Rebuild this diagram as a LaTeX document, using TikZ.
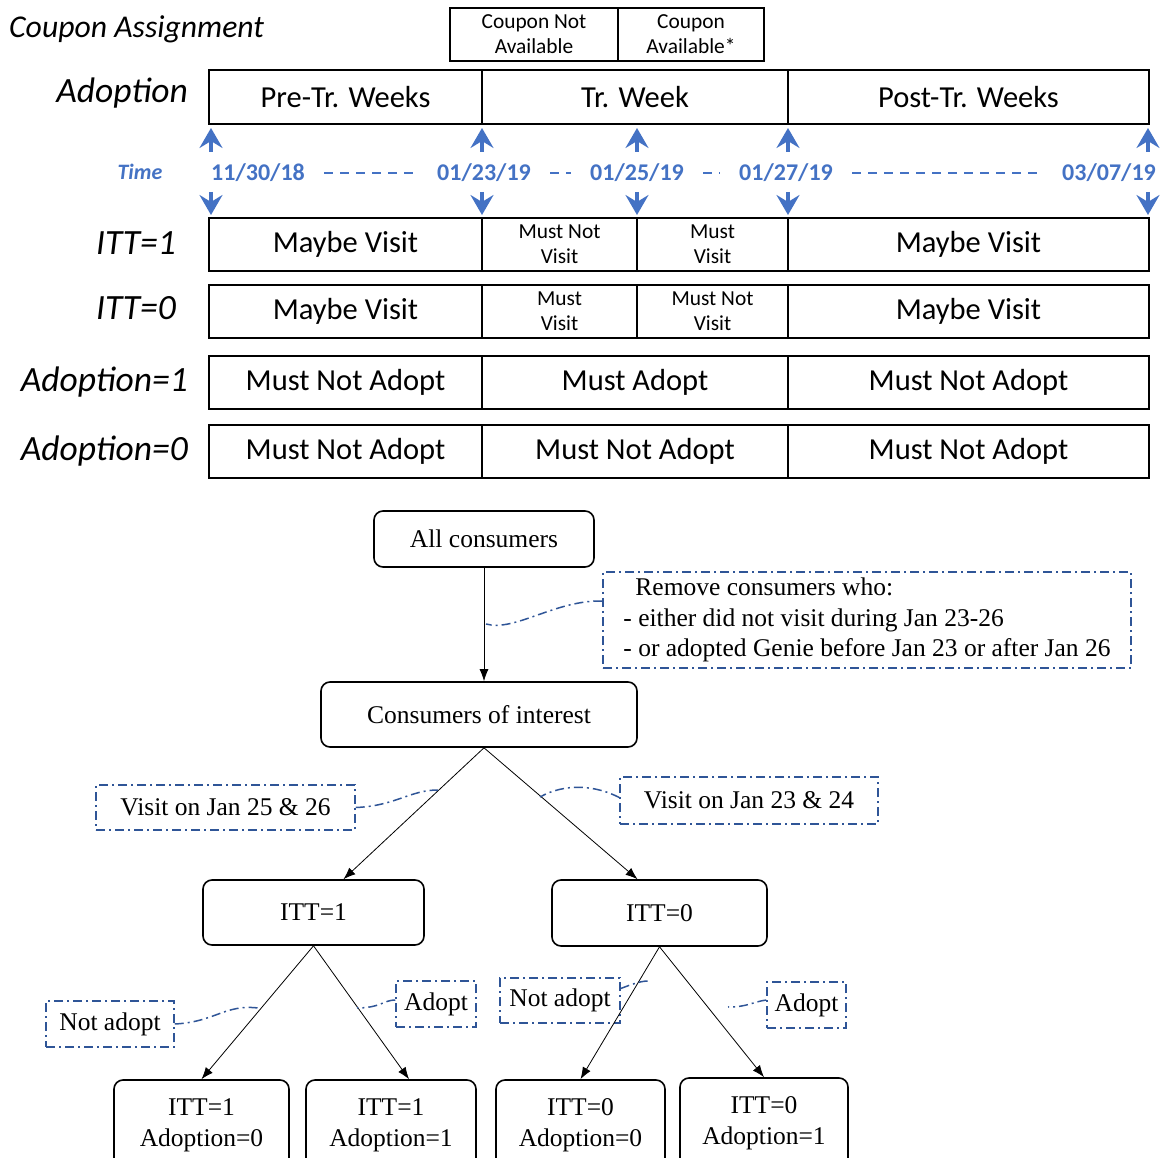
\documentclass[tikz,border=0pt]{standalone}
\usepackage{fontspec}
\setmainfont{Liberation Serif}
\newfontfamily\calibri{Carlito}
\usepackage{tikz}
\usetikzlibrary{arrows.meta,positioning}
\definecolor{timeblue}{RGB}{68,114,196}
\definecolor{noteblue}{RGB}{47,85,151}

\begin{document}
\begin{tikzpicture}[
  x=1pt, y=-1pt,
  cell/.style={draw, line width=2.4pt, inner sep=0pt, minimum height=53pt, align=center, font=\calibri\fontsize{30.5}{34}\selectfont},
  small/.style={font=\calibri\fontsize{21.4}{25}\selectfont},
  rowlab/.style={anchor=east, inner sep=0pt, font=\calibri\itshape\fontsize{35.5}{38}\selectfont},
  date/.style={text=timeblue, inner sep=0pt, font=\calibri\bfseries\fontsize{24}{28}\selectfont},
  tarr/.style={-{Stealth[length=20pt,width=23pt,inset=7pt]}, line width=3.2pt, draw=timeblue},
  tdash/.style={draw=timeblue, line width=2.5pt, dash pattern=on 9pt off 7pt, shorten >=19pt, shorten <=19pt},
  box/.style={draw, rounded corners=9pt, line width=1.6pt, inner sep=0pt, align=center, font=\fontsize{25.5}{31}\selectfont},
  note/.style={draw=noteblue, line width=1.5pt, dash pattern=on 9pt off 4pt on 2pt off 4pt, inner sep=0pt, font=\fontsize{25.5}{30.5}\selectfont},
  link/.style={draw=noteblue, line width=1.5pt, dash pattern=on 9pt off 4pt on 2pt off 4pt},
  arr/.style={-{Latex[length=12pt,width=9pt]}, line width=0.8pt}
]
\useasboundingbox (0,0) rectangle (1163,1158);

\node[anchor=west, inner sep=0pt, font=\calibri\itshape\fontsize{31.7}{35}\selectfont] (title) at (9,29) {Coupon Assignment};
\node[cell, small, line width=2pt, minimum width=168] (cna) at (534,34.5) {Coupon Not\\Available};
\node[cell, small, line width=2pt, minimum width=146] (ca) at (691,34.5) {Coupon\\Available*};

\node[rowlab] (labad) at (188,93) {Adoption};
\node[cell, minimum width=273, minimum height=54] (pre) at (345.5,97) {Pre-Tr. Weeks};
\node[cell, minimum width=306, minimum height=54] (tr) at (635,97) {Tr. Week};
\node[cell, minimum width=361, minimum height=54] (post) at (968.5,97) {Post-Tr. Weeks};

\node[date, font=\calibri\bfseries\itshape\fontsize{22}{26}\selectfont] (time) at (140,172) {Time};
\node[date, anchor=west] (d1) at (211,173) {11/30/18};
\node[date] (d2) at (484,173) {01/23/19};
\node[date] (d3) at (637,173) {01/25/19};
\node[date] (d4) at (786,173) {01/27/19};
\node[date, anchor=east] (d5) at (1156,173) {03/07/19};
\draw[tdash] (d1) -- (d2);
\draw[tdash] (d2) -- (d3);
\draw[tdash] (d3) -- (d4);
\draw[tdash] (d4) -- (d5);
\foreach \x/\n in {211/a,482/b,637/c,788/d,1148/e}{
  \coordinate (t\n) at (\x,172);
  \draw[tarr] ([yshift=20pt]t\n) -- ([yshift=44pt]t\n);
  \draw[tarr] ([yshift=-20pt]t\n) -- ([yshift=-43pt]t\n);
}

\node[rowlab] (labi1) at (176,243) {ITT=1};
\node[cell, minimum width=273] (i1a) at (345.5,244.5) {Maybe Visit};
\node[cell, small, minimum width=155] (i1b) at (559.5,244.5) {Must Not\\Visit};
\node[cell, small, minimum width=151] (i1c) at (712.5,244.5) {Must\\Visit};
\node[cell, minimum width=361] (i1d) at (968.5,244.5) {Maybe Visit};

\node[rowlab] (labi0) at (176,308) {ITT=0};
\node[cell, minimum width=273] (i0a) at (345.5,311.5) {Maybe Visit};
\node[cell, small, minimum width=155] (i0b) at (559.5,311.5) {Must\\Visit};
\node[cell, small, minimum width=151] (i0c) at (712.5,311.5) {Must Not\\Visit};
\node[cell, minimum width=361] (i0d) at (968.5,311.5) {Maybe Visit};

\node[rowlab] (laba1) at (188,382) {Adoption=1};
\node[cell, minimum width=273] (a1a) at (345.5,382.5) {Must Not Adopt};
\node[cell, minimum width=306] (a1b) at (635,382.5) {Must Adopt};
\node[cell, minimum width=361] (a1c) at (968.5,382.5) {Must Not Adopt};

\node[rowlab] (laba0) at (188,451) {Adoption=0};
\node[cell, minimum width=273] (a0a) at (345.5,451.5) {Must Not Adopt};
\node[cell, minimum width=306] (a0b) at (635,451.5) {Must Not Adopt};
\node[cell, minimum width=361] (a0c) at (968.5,451.5) {Must Not Adopt};

\node[box, minimum width=220, minimum height=56] (all) at (484,539) {All consumers};
\node[note, minimum width=528, minimum height=96, align=left] (rem) at (867,620) {\hspace*{12pt}Remove consumers who:\\- either did not visit during Jan 23-26\\- or adopted Genie before Jan 23 or after Jan 26};
\node[box, minimum width=316, minimum height=65] (coi) at (479,714.5) {Consumers of interest};
\node[note, minimum width=259, minimum height=45] (v2526) at (225.5,807.5) {Visit on Jan 25 \& 26};
\node[note, minimum width=258, minimum height=47] (v2324) at (749,800.5) {Visit on Jan 23 \& 24};
\node[box, minimum width=221, minimum height=65] (itt1) at (313.5,912.5) {ITT=1};
\node[box, minimum width=215, minimum height=66] (itt0) at (659.5,913) {ITT=0};
\node[note, minimum width=128, minimum height=46] (na1) at (110,1024) {Not adopt};
\node[note, minimum width=80, minimum height=46] (ad1) at (436,1004) {Adopt};
\node[note, minimum width=120, minimum height=45] (na2) at (560,1000.5) {Not adopt};
\node[note, minimum width=79, minimum height=46] (ad2) at (806.5,1005) {Adopt};
\node[box, minimum width=175, minimum height=90] (b1) at (201.5,1125) {ITT=1\\Adoption=0};
\node[box, minimum width=170, minimum height=90] (b2) at (391,1125) {ITT=1\\Adoption=1};
\node[box, minimum width=169, minimum height=90] (b3) at (580.5,1125) {ITT=0\\Adoption=0};
\node[box, minimum width=168, minimum height=90] (b4) at (764,1123) {ITT=0\\Adoption=1};

\draw[arr] (all.south) -- (all.south |- coi.north);
\draw[arr] ([xshift=5pt]coi.south) -- ([xshift=30pt]itt1.north);
\draw[arr] ([xshift=5pt]coi.south) -- ([xshift=-22pt]itt0.north);
\draw[arr] (itt1.south) -- (b1.north);
\draw[arr] (itt1.south) -- ([xshift=18pt]b2.north);
\draw[arr] (itt0.south) -- (b3.north);
\draw[arr] (itt0.south) -- (b4.north);

\coordinate (p1) at (486,624);
\coordinate (p2) at (438,790);
\coordinate (p3) at (540,797);
\coordinate (p4) at (258,1008);
\coordinate (p5) at (357,1008);
\coordinate (p6) at (648,981);
\coordinate (p7) at (728,1007);
\draw[link] ([yshift=19pt]rem.west) .. controls (555,600) and (515,632) .. (p1);
\draw[link] (v2526.east) .. controls (395,806) and (410,790) .. (p2);
\draw[link] ([yshift=3pt]v2324.west) .. controls (595,785) and (565,783) .. (p3);
\draw[link] (na1.east) .. controls (215,1022) and (225,1004) .. (p4);
\draw[link] ([yshift=4pt]ad1.west) .. controls (384,1000) and (380,1008) .. (p5);
\draw[link] ([yshift=12pt]na2.east) .. controls (630,985) and (640,981) .. (p6);
\draw[link] ([yshift=5pt]ad2.west) .. controls (752,1002) and (748,1007) .. (p7);
\end{tikzpicture}
\end{document}
